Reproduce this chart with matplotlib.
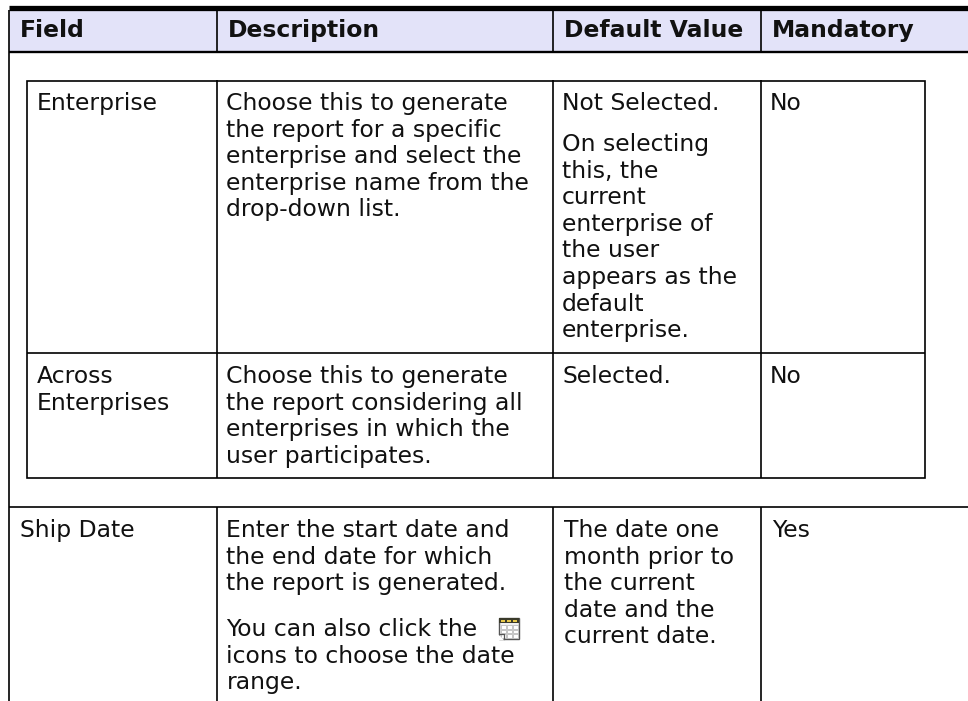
import matplotlib
matplotlib.use('Agg')
import matplotlib.pyplot as plt
from matplotlib.patches import Rectangle, Polygon

headers = ['Field', 'Description', 'Default Value', 'Mandatory']
enterprise_row = ['Enterprise',
                  ['Choose this to generate', 'the report for a specific', 'enterprise and select the',
                   'enterprise name from the', 'drop-down list.'],
                  ['Not Selected.'],
                  ['On selecting', 'this, the', 'current', 'enterprise of', 'the user', 'appears as the',
                   'default', 'enterprise.'],
                  'No']
across_row = [['Across', 'Enterprises'],
              ['Choose this to generate', 'the report considering all', 'enterprises in which the',
               'user participates.'],
              'Selected.', 'No']
ship_field = 'Ship Date'
ship_desc = ['Enter the start date and', 'the end date for which', 'the report is generated.']
ship_desc2 = ['You can also click the', 'icons to choose the date', 'range.']
ship_default = ['The date one', 'month prior to', 'the current', 'date and the', 'current date.']
ship_mand = 'Yes'

fig = plt.figure(figsize=(9.68, 7.01), dpi=100)
ax = fig.add_axes([0, 0, 1, 1])
ax.set_xlim(0, 968)
ax.set_ylim(701, 0)
ax.axis('off')

FS = 16.9
LH = 26.6
TXT = '#111111'


def put(x, y, lines, **kw):
    if isinstance(lines, str):
        lines = [lines]
    for i, line in enumerate(lines):
        ax.text(x, y + i * LH, line, fontsize=FS, color=TXT, va='baseline', ha='left', **kw)


def line(x0, y0, x1, y1, lw=1.2):
    ax.plot([x0, x1], [y0, y1], color='black', lw=lw, solid_capstyle='butt')


# header band
ax.add_patch(Rectangle((9, 10), 959, 42, fc='#e3e3f9', ec='none'))
line(9, 7.8, 968, 7.8, lw=3.8)
line(9, 52, 968, 52, lw=1.7)
for x, h in zip([20, 228, 564, 772], headers):
    put(x, 37, h, fontweight='bold')

# outer table rules
line(9, 10, 9, 701)
for x in [217, 553, 761]:
    line(x, 10, x, 52)
    line(x, 507, x, 701)
line(9, 507, 968, 507)

# inner table
ax.add_patch(Rectangle((27, 81), 898, 397, fc='none', ec='black', lw=1.2))
for x in [217, 553, 761]:
    line(x, 80, x, 478)
line(27, 353, 925, 353)

put(37, 110, enterprise_row[0])
put(226.5, 110, enterprise_row[1])
put(562, 110, enterprise_row[2])
put(562, 151, enterprise_row[3])
put(770, 110, enterprise_row[4])

put(37, 383, across_row[0])
put(226.5, 383, across_row[1])
put(562, 383, across_row[2])
put(770, 383, across_row[3])

put(20.5, 537, ship_field)
put(226.5, 537, ship_desc)
put(226.5, 636, ship_desc2)
put(564, 537, ship_default)
put(772, 537, ship_mand)

# calendar icon
ax.add_patch(Rectangle((499, 618), 20, 21, fc='#f0f0f0', ec='#555555', lw=1.0))
ax.add_patch(Rectangle((499, 618), 20, 5, fc='#3a3a2a', ec='none'))
for i in range(3):
    ax.add_patch(Rectangle((501 + i * 6, 619.5), 4, 2, fc='#e8c84a', ec='none'))
for i in range(3):
    for j in range(3):
        ax.add_patch(Rectangle((501 + i * 6, 625 + j * 4.5), 5, 3.5, fc='white', ec='#b0b0b0', lw=0.5))
ax.add_patch(Polygon([(498, 634), (498, 640), (504, 640)], fc='white', ec='none'))
ax.plot([499, 504, 504], [634, 634, 639], color='#555555', lw=0.9)

fig.savefig('out.png', dpi=100)
